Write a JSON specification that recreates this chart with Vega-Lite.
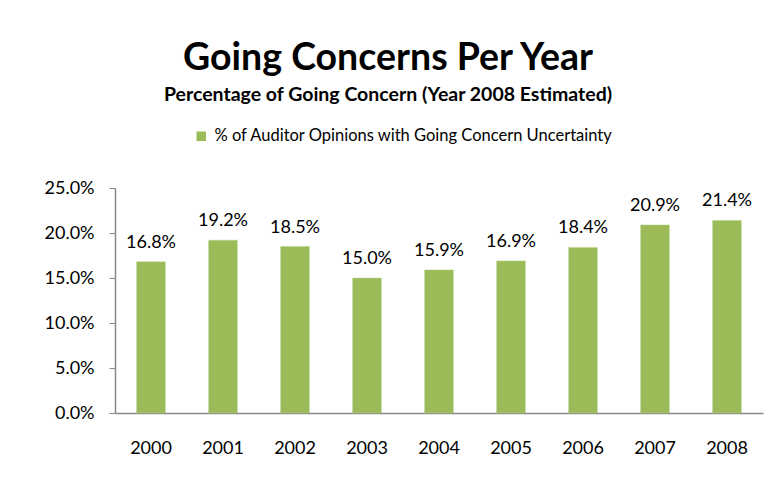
{
  "$schema": "https://vega.github.io/schema/vega-lite/v6.json",
  "autosize": {"type": "none"},
  "width": 648,
  "height": 225,
  "padding": {"left": 115, "top": 188, "right": 14, "bottom": 64},
  "background": "white",
  "config": {
    "view": {"stroke": null},
    "font": "Lato"
  },
  "title": {
    "text": "Going Concerns Per Year",
    "subtitle": "Percentage of Going Concern (Year 2008 Estimated)",
    "anchor": "middle",
    "dx": -51,
    "offset": 24,
    "font": "Lato",
    "fontSize": 37.5,
    "fontWeight": "bold",
    "color": "black",
    "subtitleFont": "Lato",
    "subtitleFontSize": 19.5,
    "subtitleFontWeight": "bold",
    "subtitleColor": "black",
    "subtitlePadding": 8
  },
  "data": {
    "values": [
      {"year": "2000", "pct": 0.168, "series": "% of Auditor Opinions with Going Concern Uncertainty"},
      {"year": "2001", "pct": 0.192, "series": "% of Auditor Opinions with Going Concern Uncertainty"},
      {"year": "2002", "pct": 0.185, "series": "% of Auditor Opinions with Going Concern Uncertainty"},
      {"year": "2003", "pct": 0.150, "series": "% of Auditor Opinions with Going Concern Uncertainty"},
      {"year": "2004", "pct": 0.159, "series": "% of Auditor Opinions with Going Concern Uncertainty"},
      {"year": "2005", "pct": 0.169, "series": "% of Auditor Opinions with Going Concern Uncertainty"},
      {"year": "2006", "pct": 0.184, "series": "% of Auditor Opinions with Going Concern Uncertainty"},
      {"year": "2007", "pct": 0.209, "series": "% of Auditor Opinions with Going Concern Uncertainty"},
      {"year": "2008", "pct": 0.214, "series": "% of Auditor Opinions with Going Concern Uncertainty"}
    ]
  },
  "encoding": {
    "x": {
      "field": "year", "type": "nominal",
      "scale": {"paddingInner": 0.6, "paddingOuter": 0.3},
      "axis": {
        "title": null, "labelAngle": 0, "ticks": false,
        "domainColor": "#888888", "domainWidth": 1.5,
        "labelFontSize": 18, "labelColor": "black", "labelPadding": 26,
        "labelFont": "Lato"
      }
    },
    "y": {
      "field": "pct", "type": "quantitative",
      "scale": {"domain": [0, 0.25]},
      "axis": {
        "title": null, "format": ".1%", "values": [0, 0.05, 0.1, 0.15, 0.2, 0.25],
        "grid": false, "domainColor": "#888888", "domainWidth": 1.5,
        "tickColor": "#888888", "tickSize": 6, "labelPadding": 15,
        "labelFontSize": 18, "labelColor": "black", "labelFont": "Lato"
      }
    }
  },
  "layer": [
    {
      "mark": {"type": "bar", "stroke": "#b8d48a", "strokeWidth": 0.5},
      "encoding": {
        "color": {
          "field": "series", "type": "nominal",
          "scale": {"range": ["#9BBB59"]},
          "legend": {
            "title": null, "orient": "none", "legendX": 78, "legendY": -60,
            "symbolType": "square", "symbolSize": 90, "symbolStrokeWidth": 0,
            "labelFontSize": 16.5, "labelFont": "Lato", "labelColor": "black",
            "labelLimit": 600, "labelOffset": 5
          }
        }
      }
    },
    {
      "mark": {"type": "text", "baseline": "alphabetic", "dy": -14, "fontSize": 18, "font": "Lato", "color": "black"},
      "encoding": {
        "text": {"field": "pct", "type": "quantitative", "format": ".1%"}
      }
    }
  ]
}
